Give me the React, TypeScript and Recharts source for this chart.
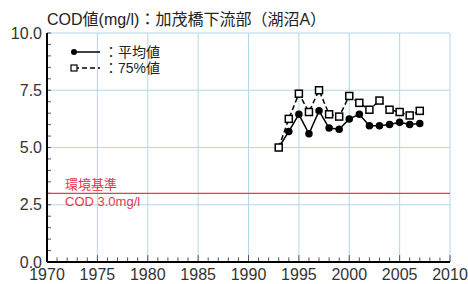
import React from 'react';
import { LineChart, Line, XAxis, YAxis, CartesianGrid, ReferenceLine } from 'recharts';

const years = [1993, 1994, 1995, 1996, 1997, 1998, 1999, 2000, 2001, 2002, 2003, 2004, 2005, 2006, 2007];
const meanValues = [5.0, 5.7, 6.45, 5.6, 6.6, 5.85, 5.8, 6.25, 6.45, 5.95, 5.95, 6.0, 6.1, 6.0, 6.05];
const p75Values = [5.0, 6.25, 7.35, 6.55, 7.5, 6.45, 6.35, 7.25, 6.95, 6.65, 7.05, 6.65, 6.55, 6.4, 6.6];

const xTicks = [1970, 1975, 1980, 1985, 1990, 1995, 2000, 2005, 2010];
const yTicks = [0, 2.5, 5, 7.5, 10];
const xMinor = Array.from({ length: 41 }, (_, i) => 1970 + i);
const yMinor = Array.from({ length: 21 }, (_, i) => i * 0.5);

const standard = 3.0;

const FONT = '"Liberation Sans", Arial, "Noto Sans CJK JP", sans-serif';

const chartData = years.map((year, i) => ({
  year,
  mean: meanValues[i],
  p75: p75Values[i],
}));

const SquareDot = (props: any) => {
  const { cx, cy, index } = props;
  if (cx == null || cy == null) return <g key={index} />;
  return (
    <rect key={index} x={cx - 3.5} y={cy - 3.5} width={7} height={7} fill="#fff" stroke="#000" strokeWidth={1.5} />
  );
};

// legend sits inside the plot, top-left
const LegendBox = () => (
  <svg width={130} height={36} style={{ position: 'absolute', left: 70, top: 44, fontFamily: FONT }}>
    <line x1={4} y1={8} x2={30} y2={8} stroke="#000" strokeWidth={1.5} />
    <circle cx={4} cy={8} r={3} fill="#000" />
    <text x={34} y={13} fontSize={14} fill="#222">：平均値</text>
    <line x1={4} y1={24} x2={30} y2={24} stroke="#000" strokeWidth={1.5} strokeDasharray="5 3" />
    <rect x={1} y={21} width={6} height={6} fill="#fff" stroke="#000" strokeWidth={1.2} />
    <text x={34} y={29} fontSize={14} fill="#222">：75%値</text>
  </svg>
);

const StandardLabel = (props: any) => {
  const { viewBox } = props;
  const x = viewBox.x + 18;
  const y = viewBox.y;
  return (
    <g style={{ fontFamily: FONT }}>
      <text x={x} y={y - 4} fontSize={13} fill="#e8344a">環境基準</text>
      <text x={x} y={y + 13} fontSize={13} fill="#e8344a">COD 3.0mg/l</text>
    </g>
  );
};

export default function App() {
  return (
    <div style={{ position: 'absolute', left: 0, top: 0, width: 468, height: 284, background: '#fff', fontFamily: FONT }}>
      <div style={{ position: 'absolute', left: 47, top: 6, fontSize: 16, color: '#222', whiteSpace: 'nowrap' }}>
        COD値(mg/l)：加茂橋下流部（湖沼A）
      </div>
      <LineChart width={468} height={284} data={chartData} margin={{ top: 33, right: 18, bottom: 0, left: 0 }}>
        <CartesianGrid stroke="#afd8ea" strokeWidth={1} />
        <XAxis
          dataKey="year"
          type="number"
          domain={[1970, 2010]}
          ticks={xTicks}
          interval={0}
          height={22}
          tickSize={0}
          tickMargin={7}
          tick={{ fontSize: 16, fill: '#333' }}
          axisLine={{ stroke: '#000', strokeWidth: 2 }}
          allowDataOverflow
        />
        <YAxis
          type="number"
          domain={[0, 10]}
          ticks={yTicks}
          interval={0}
          width={47}
          tickSize={0}
          tickMargin={5}
          tickFormatter={(v: number) => v.toFixed(1)}
          tick={{ fontSize: 16, fill: '#333' }}
          axisLine={{ stroke: '#000', strokeWidth: 2 }}
        />
        <XAxis xAxisId="top" orientation="top" type="number" domain={[1970, 2010]} height={0} tick={false} tickLine={false} axisLine={{ stroke: '#000', strokeWidth: 1.5 }} />
        <YAxis yAxisId="right" orientation="right" type="number" domain={[0, 10]} width={0} tick={false} tickLine={false} axisLine={{ stroke: '#000', strokeWidth: 1.5 }} />
        {xMinor.map((yr) => (
          <ReferenceLine
            key={'xm' + yr}
            segment={[{ x: yr, y: 0 }, { x: yr, y: yr % 5 === 0 ? 0.3 : 0.2 }]}
            stroke="#555"
            strokeWidth={1}
          />
        ))}
        {yMinor.map((v) => (
          <ReferenceLine
            key={'ym' + v}
            segment={[{ x: 1970, y: v }, { x: 1970.4, y: v }]}
            stroke="#555"
            strokeWidth={1}
          />
        ))}
        <ReferenceLine y={standard} stroke="#e0404f" strokeWidth={1.2} label={<StandardLabel />} />
        <Line
          dataKey="mean"
          stroke="#000"
          strokeWidth={1.5}
          dot={{ r: 3, fill: '#000', stroke: '#000' }}
          isAnimationActive={false}
        />
        <Line
          dataKey="p75"
          stroke="#000"
          strokeWidth={1.5}
          strokeDasharray="5 3"
          dot={<SquareDot />}
          isAnimationActive={false}
        />
      </LineChart>
      <LegendBox />
    </div>
  );
}
